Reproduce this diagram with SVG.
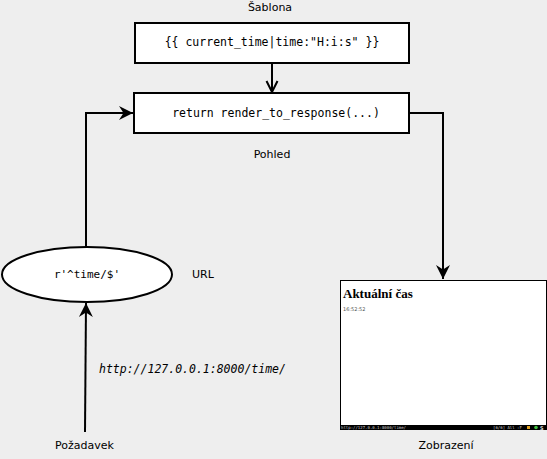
<svg xmlns="http://www.w3.org/2000/svg" width="547" height="459" viewBox="0 0 547 459">
<style>
.lbl{font-family:"DejaVu Sans",sans-serif;font-size:11px;fill:#000}
.code{font-family:"DejaVu Sans Mono",monospace;font-size:11.5px;fill:#000}
.box{fill:#fff;stroke:#000;stroke-width:2}
.conn{fill:none;stroke:#000;stroke-width:2}
</style>
<defs>
<marker id="fa" markerUnits="userSpaceOnUse" markerWidth="16" markerHeight="16" viewBox="-14 -8 16 16" refX="0" refY="0" orient="auto">
<path d="M0,0 L-14,-7 L-9.5,0 L-14,7 Z" fill="#000"/>
</marker>
<marker id="oa" markerUnits="userSpaceOnUse" markerWidth="16" markerHeight="16" viewBox="-14 -8 16 16" refX="0" refY="0" orient="auto">
<path d="M-11,-5.5 L0,0 L-11,5.5" fill="none" stroke="#000" stroke-width="2"/>
</marker>
</defs>
<rect width="547" height="459" fill="#eeeeee"/>
<g id="connectors">
<path class="conn" d="M272,63 L272,92" marker-end="url(#oa)"/>
<path class="conn" d="M86,247 L86,113 L133,113" marker-end="url(#fa)"/>
<path class="conn" d="M409,113 L443,113 L443,279" marker-end="url(#fa)"/>
<path class="conn" d="M85,432 L86,303" marker-end="url(#fa)"/>
</g>
<g id="sablona">
<rect class="box" x="135" y="23" width="274" height="40"/>
<text class="code" x="272" y="46" text-anchor="middle">{{ current_time|time:"H:i:s" }}</text>
<text class="lbl" x="270" y="11" text-anchor="middle">Šablona</text>
</g>
<g id="pohled">
<rect class="box" x="134" y="93" width="275" height="40"/>
<text class="code" x="276" y="117" text-anchor="middle">return render_to_response(...)</text>
<text class="lbl" x="272" y="158" text-anchor="middle">Pohled</text>
</g>
<g id="url">
<ellipse class="box" cx="87" cy="274.5" rx="85" ry="27.5"/>
<text class="code" x="87" y="278" text-anchor="middle" style="font-size:11px">r'^time/$'</text>
<text class="lbl" x="192" y="278">URL</text>
</g>
<g id="request-label">
<text class="code" x="99" y="373" font-style="italic">http://127.0.0.1:8000/time/</text>
</g>
<g id="pozadavek">
<text class="lbl" x="55" y="449">Požadavek</text>
</g>
<g id="zobrazeni">
<rect x="340.5" y="280.5" width="206" height="149" fill="#fff" stroke="#000" stroke-width="1"/>
<text x="343" y="298" style="font-family:'Liberation Serif','DejaVu Serif',serif;font-weight:bold;font-size:13px">Aktuální čas</text>
<text x="343" y="311" style="font-family:'DejaVu Sans',sans-serif;font-size:5px;fill:#555">16:52:52</text>
<rect x="340" y="425" width="207" height="5" fill="#000"/>
<text x="341" y="429" style="font-family:'DejaVu Sans Mono',monospace;font-size:4px;fill:#ccc">http://127.0.0.1:8000/time/</text>
<text x="493" y="429" style="font-family:'DejaVu Sans Mono',monospace;font-size:4px;fill:#ccc">[6/6] All :F</text>
<rect x="527" y="426" width="3" height="3" fill="#e0a020"/>
<circle cx="536" cy="427.5" r="1.8" fill="#40c040"/>
<text x="540" y="429.5" style="font-family:'DejaVu Sans',sans-serif;font-size:5px;font-weight:bold;fill:#ddd">S</text>
<text class="lbl" x="446" y="449" text-anchor="middle">Zobrazení</text>
</g>
</svg>
